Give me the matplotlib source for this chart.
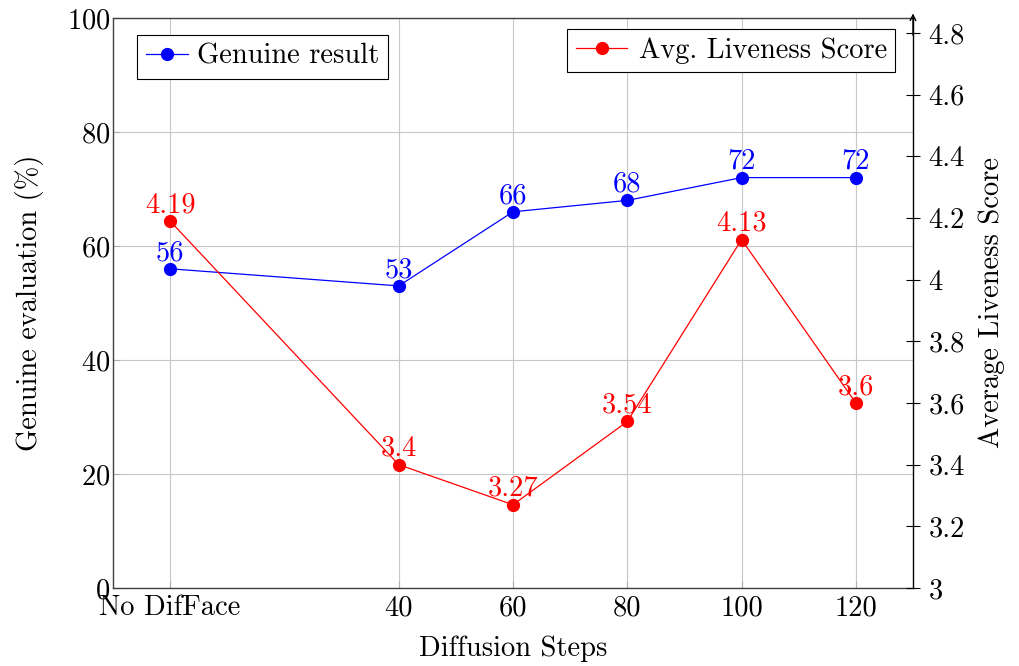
import matplotlib.pyplot as plt
from matplotlib.lines import Line2D

plt.rcParams['font.family'] = ['cmr10', 'DejaVu Serif']
plt.rcParams['axes.formatter.use_mathtext'] = True

step_labels = ['No DifFace', '40', '60', '80', '100', '120']
step_x = [0, 40, 60, 80, 100, 120]
genuine = [56, 53, 66, 68, 72, 72]
liveness = [4.19, 3.4, 3.27, 3.54, 4.13, 3.6]
left_ticks = [0, 20, 40, 60, 80, 100]
right_ticks = [3, 3.2, 3.4, 3.6, 3.8, 4, 4.2, 4.4, 4.6, 4.8]
right_labels = ['3', '3.2', '3.4', '3.6', '3.8', '4', '4.2', '4.4', '4.6', '4.8']

fs = 20.5
fig = plt.figure(figsize=(10.19, 6.66), dpi=100)
ax = fig.add_axes([113 / 1019, 1 - 588 / 666, 800 / 1019, 570 / 666])
ax2 = ax.twinx()

ax.set_xlim(-10, 130)
ax.set_ylim(0, 100)
ax2.set_ylim(3, 3 + 570 * 1.8 / 555)

ax.grid(True, color='#c8c8c8', linewidth=0.8)
ax.set_axisbelow(True)
ax.set_xticks(step_x)
ax.set_xticklabels(step_labels)
ax.set_yticks(left_ticks)
ax.tick_params(direction='in', length=5, color='#b0b0b0', labelsize=fs, pad=5)
ax.tick_params(axis='y', pad=2)
for s in ['left', 'top', 'bottom']:
    ax.spines[s].set_color('#404040')
    ax.spines[s].set_linewidth(1.0)
ax.spines['right'].set_visible(False)

ax.plot(step_x, genuine, color='blue', lw=0.9, marker='o', ms=8.5, zorder=3)
for x, v in zip(step_x, genuine):
    ax.annotate(str(v), (x, v), xytext=(0, 2), textcoords='offset points',
                ha='center', va='bottom', color='blue', fontsize=fs)

ax2.plot(step_x, liveness, color='red', lw=0.9, marker='o', ms=8.5, zorder=3)
for x, v in zip(step_x, liveness):
    ax2.annotate(f'{v:g}', (x, v), xytext=(0, 2), textcoords='offset points',
                 ha='center', va='bottom', color='red', fontsize=fs)

ax2.set_yticks(right_ticks)
ax2.set_yticklabels(right_labels)
ax2.tick_params(axis='y', direction='inout', length=10, labelsize=fs, pad=6)
for s in ['left', 'top', 'bottom']:
    ax2.spines[s].set_visible(False)
ax2.spines['right'].set_linewidth(1.0)
ax2.annotate('', xy=(1, 1.008), xytext=(1, 0.97), xycoords='axes fraction',
             arrowprops=dict(arrowstyle='->', lw=1.0, color='black',
                             shrinkA=0, shrinkB=0))

ax.set_xlabel('Diffusion Steps', fontsize=fs, labelpad=10)
ax.set_ylabel('Genuine evaluation (%)', fontsize=fs, labelpad=16)
ax2.set_ylabel('Average Liveness Score', fontsize=fs, labelpad=10)

h1 = Line2D([], [], color='blue', lw=0.9, marker='o', ms=8.5)
h2 = Line2D([], [], color='red', lw=0.9, marker='o', ms=8.5)
leg1 = ax.legend([h1], ['Genuine result'], loc='upper left', bbox_to_anchor=(0.03, 0.97),
                 fontsize=fs, fancybox=False, edgecolor='black', framealpha=1,
                 handlelength=1.5, handletextpad=0.3, borderpad=0.3, borderaxespad=0)
leg1.get_frame().set_linewidth(0.8)
leg2 = ax2.legend([h2], ['Avg. Liveness Score'], loc='upper right', bbox_to_anchor=(0.978, 0.981),
                  fontsize=fs, fancybox=False, edgecolor='black', framealpha=1,
                  handlelength=1.8, handletextpad=0.4, borderpad=0.3, borderaxespad=0)
leg2.get_frame().set_linewidth(0.8)

fig.savefig('out.png', dpi=100)
